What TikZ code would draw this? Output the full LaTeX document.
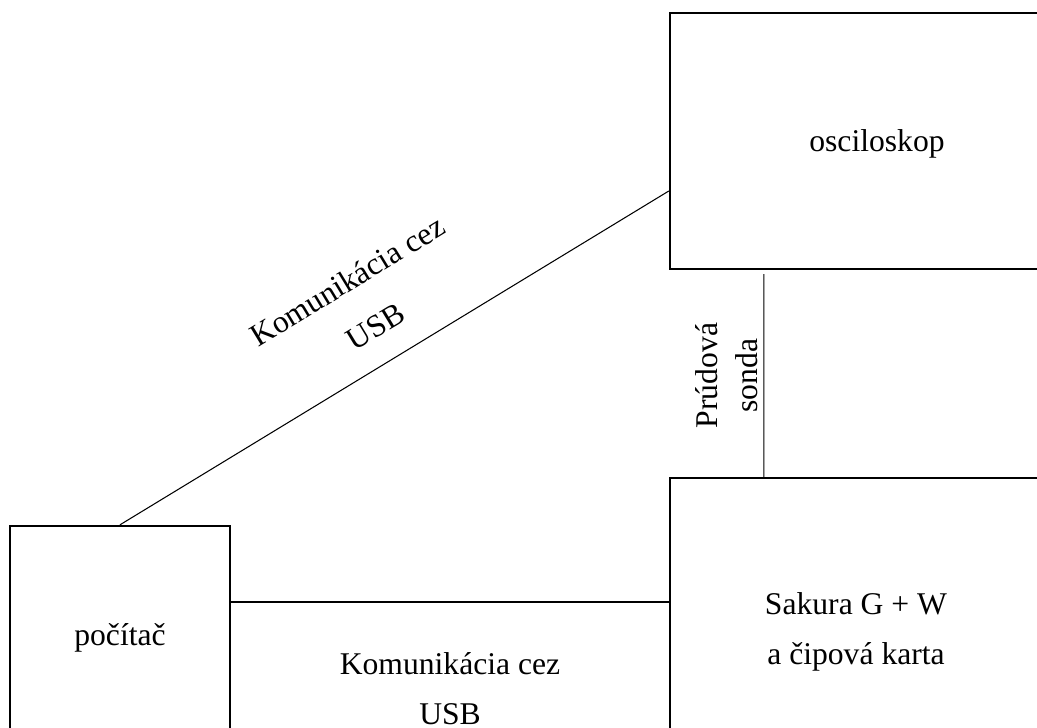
\documentclass[tikz,border=0pt]{standalone}
\usepackage{fontspec}
\setmainfont{Liberation Serif}
\usetikzlibrary{positioning}
\def\usbsep{0.72cm}
\def\probesep{1.9cm}

\begin{document}
\begin{tikzpicture}[x=0.02cm, y=-0.02cm, font=\fontsize{18}{28.5}\selectfont]
    \tikzstyle{block}=[draw=black, line width=1.4pt, rectangle, inner sep=0pt, align=center]
    \tikzstyle{wire}=[draw=black, line width=0.6pt]
    \tikzstyle{lbl}=[align=center, sloped]

    \useasboundingbox (0,0) rectangle (1037,727);

    \node[block, minimum width=8.28cm, minimum height=5.12cm, text depth=-3pt] (osc) at (877,141) {osciloskop};
    \node[block, minimum width=4.4cm, minimum height=4.48cm] (pc) at (120,638) {počítač};
    \node[block, minimum width=7.44cm, minimum height=6.16cm] (sak) at (856,632) {Sakura G + W\\a čipová karta};

    % USB links
    \path (pc.north) edge[wire] node[lbl, above=11pt, font=\fontsize{18}{30.5}\selectfont] {Komunikácia cez\\USB} ([yshift=-1cm]osc.west);
    \path ([yshift=\usbsep]pc.east) edge[wire] node[lbl, below=25pt] {Komunikácia cez\\USB} ([yshift=\usbsep]pc.east -| sak.west);

    % probe
    \path ([xshift=\probesep]sak.north west) edge[wire] node[lbl, above=0pt, font=\fontsize{18}{22.5}\selectfont] {Prúdová\\sonda} ([xshift=\probesep, yshift=-0.08cm]osc.south west);
\end{tikzpicture}
\end{document}
